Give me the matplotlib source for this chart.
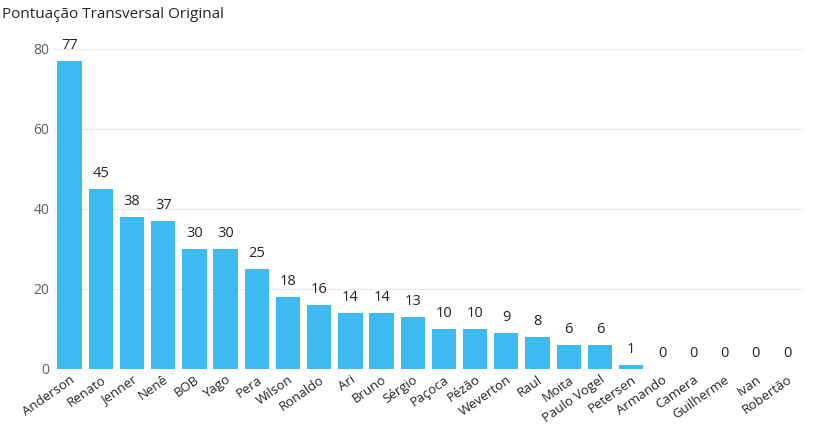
import matplotlib.pyplot as plt

names = ["Anderson", "Renato", "Jenner", "Nenê", "BOB", "Yago", "Pera", "Wilson", "Ronaldo",
         "Ari", "Bruno", "Sérgio", "Paçoca", "Pézão", "Weverton", "Raul", "Moita", "Paulo Vogel",
         "Petersen", "Armando", "Camera", "Guilherme", "Ivan", "Robertão"]
scores = [77, 45, 38, 37, 30, 30, 25, 18, 16, 14, 14, 13, 10, 10, 9, 8, 6, 6, 1, 0, 0, 0, 0, 0]

plt.rcParams['font.family'] = ['Segoe UI', 'Open Sans', 'DejaVu Sans']

fig = plt.figure(figsize=(8.19, 4.26), dpi=100)
ax = fig.add_axes([0.066, 0.134, 0.914, 0.751])

x = range(len(names))
ax.bar(x, scores, width=0.78, color="#3FB9F2", zorder=3)
for i, v in enumerate(scores):
    ax.text(i, v + 2, str(v), ha="center", va="bottom", fontsize=10.5, color="#252423")

ax.set_xlim(-0.5, len(names) - 0.5)
ax.set_ylim(0, 80)
ax.set_yticks([0, 20, 40, 60, 80])
ax.yaxis.grid(True, color="#E8E8E8", linewidth=0.8, zorder=0)
ax.set_xticks(list(x))
ax.set_xticklabels(names, rotation=35, ha="right", rotation_mode="anchor", fontsize=9.5, color="#252423")
ax.tick_params(axis="y", labelsize=10, colors="#605E5C", length=0)
ax.tick_params(axis="x", length=0, pad=3)
for s in ax.spines.values():
    s.set_visible(False)

fig.text(0.003, 0.965, "Pontuação Transversal Original", fontsize=11, color="#252423", va="center")

fig.savefig("out.png", dpi=100)
